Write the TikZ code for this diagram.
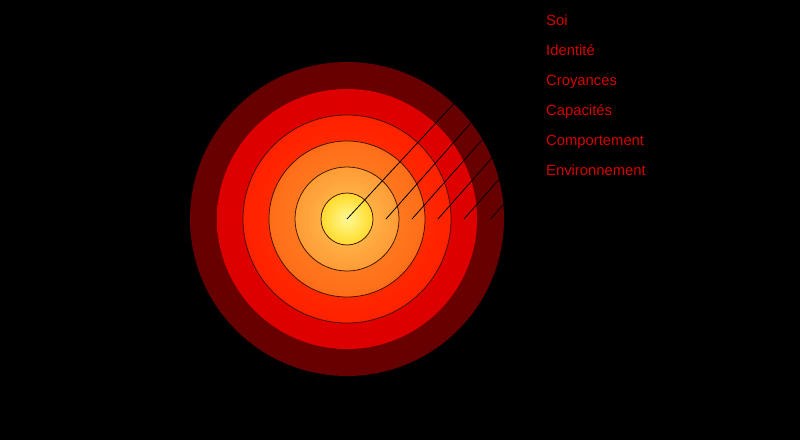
\documentclass[tikz,border=0pt]{standalone}
\usepackage{fontspec}
\setmainfont{Liberation Sans}
\usetikzlibrary{calc}

\definecolor{labelred}{RGB}{212,0,0}
\definecolor{ringline}{RGB}{60,20,0}

% ring colours, centre -> rim (rim of a circle sits at about 35.4bp)
\definecolor{envA}{RGB}{112,0,0}
\definecolor{envB}{RGB}{102,0,0}
\definecolor{envC}{RGB}{70,0,0}
\definecolor{comA}{RGB}{228,0,0}
\definecolor{comB}{RGB}{220,0,0}
\definecolor{comC}{RGB}{200,0,0}
\definecolor{capA}{RGB}{255,60,0}
\definecolor{capB}{RGB}{255,32,0}
\definecolor{capC}{RGB}{238,12,0}
\definecolor{croA}{RGB}{255,140,40}
\definecolor{croB}{RGB}{255,112,26}
\definecolor{croC}{RGB}{248,90,12}
\definecolor{ideA}{RGB}{255,200,90}
\definecolor{ideB}{RGB}{255,168,62}
\definecolor{ideC}{RGB}{255,140,44}
\definecolor{soiA}{RGB}{255,248,150}
\definecolor{soiB}{RGB}{255,228,70}
\definecolor{soiC}{RGB}{255,200,20}

\pgfdeclareradialshading{envshade}{\pgfpoint{0bp}{0bp}}{color(0bp)=(envA); color(28bp)=(envB); color(35.4bp)=(envC); color(50bp)=(envC)}
\pgfdeclareradialshading{comshade}{\pgfpoint{0bp}{0bp}}{color(0bp)=(comA); color(27bp)=(comB); color(35.4bp)=(comC); color(50bp)=(comC)}
\pgfdeclareradialshading{capshade}{\pgfpoint{0bp}{0bp}}{color(0bp)=(capA); color(26bp)=(capB); color(35.4bp)=(capC); color(50bp)=(capC)}
\pgfdeclareradialshading{croshade}{\pgfpoint{0bp}{0bp}}{color(0bp)=(croA); color(23bp)=(croB); color(35.4bp)=(croC); color(50bp)=(croC)}
\pgfdeclareradialshading{ideshade}{\pgfpoint{0bp}{0bp}}{color(0bp)=(ideA); color(17bp)=(ideB); color(35.4bp)=(ideC); color(50bp)=(ideC)}
\pgfdeclareradialshading{soishade}{\pgfpoint{0bp}{0bp}}{color(0bp)=(soiA); color(18bp)=(soiB); color(35.4bp)=(soiC); color(50bp)=(soiC)}

\begin{document}
\begin{tikzpicture}[
    x=1pt, y=1pt,
    level/.style={anchor=base west, inner sep=0pt, text=labelred, font=\fontsize{14.8}{17}\selectfont},
    ring/.style={draw=ringline, line width=0.75pt},
    pointer/.style={draw=black, line width=0.8pt}
]

% black page
\useasboundingbox (0,0) rectangle (800,440);
\fill[black] (0,0) rectangle (800,440);

\coordinate (c) at (347,221);

% Rings, outside in
\shade[shading=envshade] (c) circle (157);
\shade[shading=comshade] (c) circle (130);
\shadedraw[shading=capshade, ring] (c) circle (104);
\shadedraw[shading=croshade, ring] (c) circle (78);
\shadedraw[shading=ideshade, ring] (c) circle (52);
\shadedraw[shading=soishade, ring] (c) circle (26);

% Pointers from each ring to the rim
\foreach \s/\a [count=\i] in {0/47.2, 39/37.8, 65/30.4, 91/22.8, 117/14.6, 143.5/5.3} {
    \coordinate (from\i) at ($(c)+(\s,0)$);
    \coordinate (to\i) at ($(c)+(\a:157)$);
    \draw[pointer] (from\i) -- (to\i);
}

% Labels
\node[level] (soi) at (546,414.5) {Soi};
\node[level] (identite) at (546,384.5) {Identité};
\node[level] (croyances) at (546,354.5) {Croyances};
\node[level] (capacites) at (546,324.5) {Capacités};
\node[level] (comportement) at (546,294.5) {Comportement};
\node[level] (environnement) at (546,264.5) {Environnement};

\end{tikzpicture}
\end{document}
